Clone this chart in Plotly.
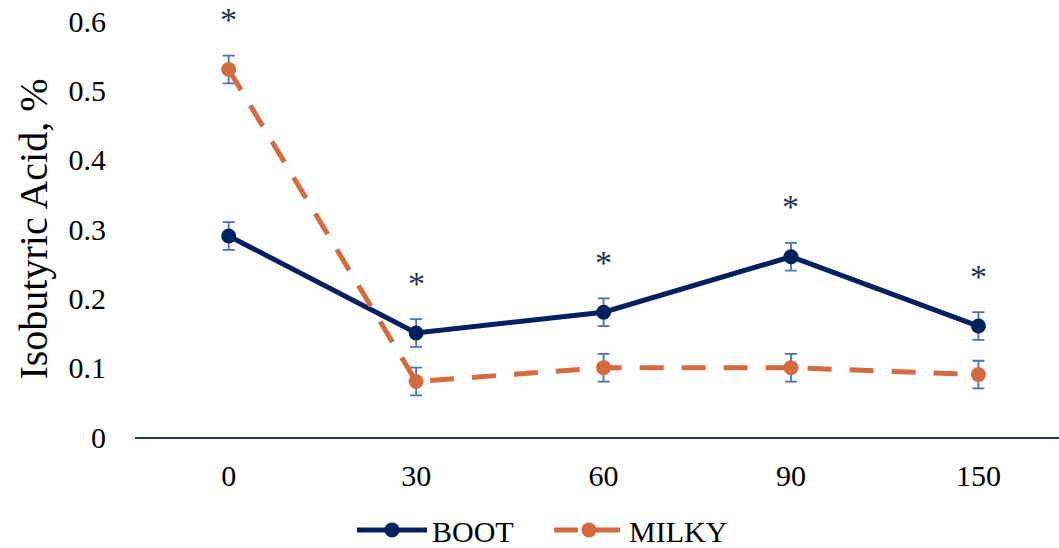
import plotly.graph_objects as go

categories = ["0", "30", "60", "90", "150"]
boot = [0.29, 0.15, 0.18, 0.26, 0.16]
boot_err = [0.02, 0.02, 0.02, 0.02, 0.02]
milky = [0.53, 0.08, 0.10, 0.10, 0.09]
milky_err = [0.02, 0.02, 0.02, 0.02, 0.02]
significant = [True, True, True, True, True]
y_ticks = [0, 0.1, 0.2, 0.3, 0.4, 0.5, 0.6]
y_tick_labels = ["0", "0.1", "0.2", "0.3", "0.4", "0.5", "0.6"]

FONT = "Liberation Serif"
NAVY = "#002060"
ORANGE = "#D56A3F"
ERR = "#4472C4"

fig = go.Figure()
fig.add_trace(go.Scatter(
    x=categories, y=boot, name="BOOT", mode="lines+markers",
    line=dict(color=NAVY, width=5),
    marker=dict(color=NAVY, size=15),
    error_y=dict(type="data", array=boot_err, color=ERR, thickness=1.8, width=6),
))
fig.add_trace(go.Scatter(
    x=categories, y=milky, name="MILKY", mode="lines+markers",
    line=dict(color=ORANGE, width=5, dash="24px,18px"),
    marker=dict(color=ORANGE, size=15),
    error_y=dict(type="data", array=milky_err, color=ERR, thickness=1.8, width=6),
))

# significance asterisks above the highest error bar at each time point
for i, sig in enumerate(significant):
    if not sig:
        continue
    top = max(boot[i] + boot_err[i], milky[i] + milky_err[i])
    fig.add_annotation(x=i, y=top, xref="x", yref="y", text="*", showarrow=False,
                       yanchor="middle", yshift=36,
                       font=dict(family=FONT, size=34, color="#1F3050"))

fig.update_layout(
    width=1059, height=548,
    margin=dict(l=135, r=0, t=21, b=111),
    paper_bgcolor="white", plot_bgcolor="white",
    font=dict(family=FONT, size=30, color="black"),
    showlegend=True,
    legend=dict(orientation="h", xref="container", yref="container",
                x=352 / 1059, xanchor="left", y=0.033, yanchor="middle",
                font=dict(family=FONT, size=30, color="black"), itemwidth=70,
                entrywidth=112, entrywidthmode="pixels", tracegroupgap=0),
)
fig.update_xaxes(
    type="category", range=[-0.5, 4.43], automargin=False,
    showgrid=False, showline=True, linecolor="#1F3864", linewidth=1.5,
    ticks="", ticklabelstandoff=11,
    tickfont=dict(family=FONT, size=30, color="black"),
    zeroline=False,
)
fig.update_yaxes(
    range=[0, 0.6], tickvals=y_ticks, ticktext=y_tick_labels, automargin=False,
    showgrid=False, showline=False, zeroline=False, ticks="",
    ticklabelstandoff=28, ticklabeloverflow="allow",
    tickfont=dict(family=FONT, size=30, color="black"),
    title=dict(text="Isobutyric Acid, %", font=dict(family=FONT, size=40, color="black"), standoff=8),
)

# remove the page's default 8px body margin so the figure sits at the window's top-left
fig.write_html("out.html", config={"displayModeBar": False},
               post_script="document.body.style.margin='0';")
